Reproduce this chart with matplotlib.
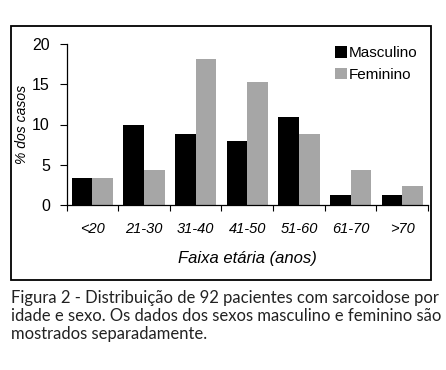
import matplotlib
matplotlib.use("Agg")
import matplotlib.pyplot as plt
import numpy as np
from matplotlib.patches import Rectangle

age_groups = ["<20", "21-30", "31-40", "41-50", "51-60", "61-70", ">70"]
masculino = [3.3, 9.9, 8.8, 7.9, 10.9, 1.2, 1.2]
feminino = [3.3, 4.4, 18.1, 15.3, 8.8, 4.4, 2.3]

caption = ("Figura 2 - Distribuição de 92 pacientes com sarcoidose por\n"
           "idade e sexo. Os dados dos sexos masculino e feminino são\n"
           "mostrados separadamente.")

plt.rcParams["font.family"] = ["Liberation Sans", "DejaVu Sans"]

W, H = 446, 370
fig = plt.figure(figsize=(W / 100, H / 100), dpi=100)

# outer frame around the chart
fig.patches.append(Rectangle((11 / W, 1 - 280 / H), (431 - 11) / W, (280 - 26) / H,
                             transform=fig.transFigure, fill=False,
                             edgecolor="black", linewidth=1.3))

ax = fig.add_axes([66.5 / W, 1 - 205 / H, (428 - 66.5) / W, (205 - 44) / H])

x = np.arange(len(age_groups))
w = 0.4
ax.bar(x - w / 2, masculino, w, color="black", label="Masculino")
ax.bar(x + w / 2, feminino, w, color="#a6a6a6", label="Feminino")

ax.set_xlim(-0.5, len(age_groups) - 0.5)
ax.set_ylim(0, 20)
ax.set_yticks([0, 5, 10, 15, 20])
ax.tick_params(axis="y", labelsize=11.5, length=5, width=0.8, pad=7, direction="out")

ax.set_xticks(x)
ax.set_xticklabels(age_groups, fontsize=10.5, style="italic")
ax.set_xticks(np.arange(-0.5, len(age_groups)), minor=True)
ax.tick_params(axis="x", which="major", length=0, pad=12)
ax.tick_params(axis="x", which="minor", length=4, width=0.8, direction="out")

for s in ["top", "right"]:
    ax.spines[s].set_visible(False)
ax.spines["left"].set_linewidth(0.9)
ax.spines["bottom"].set_linewidth(0.9)

ax.set_xlabel("Faixa etária (anos)", fontsize=12, style="italic", labelpad=11)
ax.set_ylabel("% dos casos", fontsize=10, style="italic")
ax.yaxis.set_label_coords(-0.105, 0.5)

ax.legend(loc="upper left", bbox_to_anchor=(335 / W, 1 - 46 / H),
          bbox_transform=fig.transFigure, frameon=False, fontsize=11,
          handlelength=0.8, handleheight=0.8, handletextpad=0.1,
          labelspacing=0.5, borderpad=0, borderaxespad=0)

fig.text(11 / W, 1 - 290 / H, caption, fontsize=12, family="Lato",
         color="#222222", va="top", ha="left", linespacing=1.17)

fig.savefig("out.png", dpi=100)
